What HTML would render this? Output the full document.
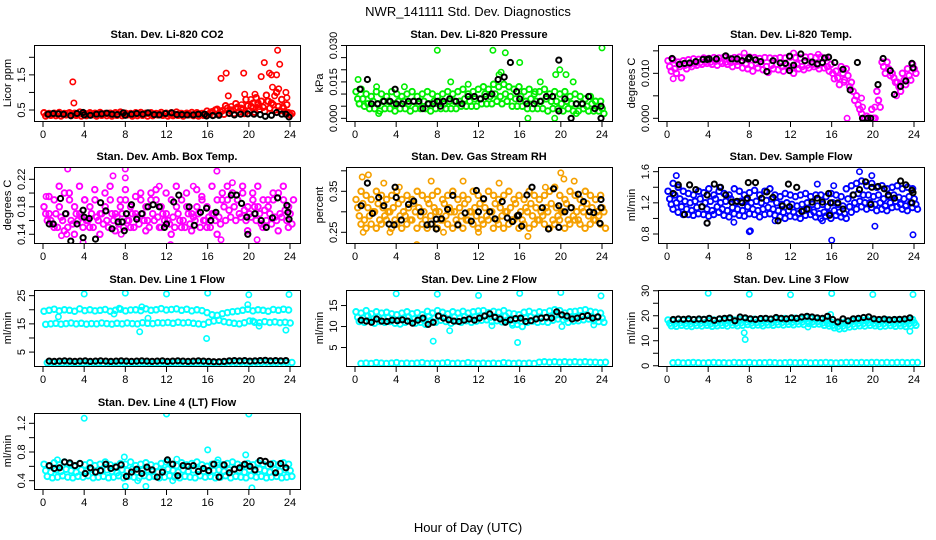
<!DOCTYPE html>
<html><head><meta charset="utf-8">
<style>
html,body{margin:0;padding:0;background:#fff;}
svg{display:block;font-family:"Liberation Sans",Arial,sans-serif;}
</style></head>
<body>
<svg id="chart" width="936" height="540" viewBox="0 0 936 540">
<rect width="936" height="540" fill="#fff"/>
<text x="468" y="16" text-anchor="middle" font-size="13">NWR_141111 Std. Dev. Diagnostics</text>
<text x="468" y="532" text-anchor="middle" font-size="13">Hour of Day (UTC)</text>
</svg>
<script>
// ---------- DATA ----------
const xTicks = [0,4,8,12,16,20,24];

// CO2 (ppm)
const co2A = [.42,.40,.41,.43,.40,.42,.41,.44,.40,.42,.41,.43,.40,.41,.42,.44,.41,.40,.42,.43,.41,.42,.40,.43,.41,.42,.44,.40,.41,.43,.42,.40,.47,.45,.52,.48,.55,.50,.58,.52,.62,.55,.70,.58,.75,.65,.60,.55,.42];
const co2B = [.33,.35,.34,.33,.36,.34,.35,.33,.34,.36,.33,.35,.34,.33,.35,.34,.36,.33,.34,.35,.33,.34,.36,.35,.33,.34,.35,.33,.36,.34,.33,.35,.38,.36,.40,.38,.42,.40,.45,.40,.48,.44,.52,.46,.55,.50,.48,.44,.36];
const co2C = [.38,.37,.39,.38,.40,.38,.37,.39,.38,.37,.39,.38,.40,.37,.38,.39,.38,.37,.39,.38,.40,.37,.38,.39,.38,.37,.40,.38,.37,.39,.38,.37,.42,.50,.45,.62,.48,.68,.55,.80,.60,.85,.75,.92,.70,1.0,.80,.65,.40];
const co2Out = [[2.9,1.3],[3,.7],[17.3,1.4],[17.8,1.55],[18,.9],[19.5,1.55],[19.6,.95],[20.2,.8],[20.6,.95],[21.2,1.45],[21.5,1.85],[22,1.55],[22.2,1.5],[22.3,1.15],[22.7,1.5],[22.8,2.2],[23,1.8],[22.9,1.1],[23.6,1.0],[23.7,.85],[21.8,.75],[20.9,.65],[18.3,.6],[19.3,.65],[23.3,.6],[22.5,.9],[21,.6],[20.4,.7]];
const co2Blk = [[.5,.38],[1,.40],[1.5,.39],[2,.38],[2.7,.34],[3.3,.40],[3.9,.43],[4,.36],[4.6,.35],[5.2,.38],[5.7,.39],[6.2,.41],[6.7,.38],[7.2,.37],[7.8,.42],[8,.35],[8.6,.38],[9.1,.40],[9.7,.38],[10.2,.42],[10.8,.37],[11.3,.36],[11.9,.40],[12.5,.42],[13,.37],[13.5,.37],[14,.36],[14.6,.36],[15.1,.38],[15.7,.38],[15.9,.33],[16.5,.34],[17.1,.35],[18.1,.40],[18.6,.36],[19.2,.38],[19.9,.39],[20.5,.38],[21.1,.37],[21.6,.32],[22.2,.35],[22.7,.43],[23.2,.38],[23.6,.38],[23.9,.30]];

// Pressure (kPa)
const prA = [.011,.012,.010,.009,.011,.010,.009,.011,.010,.009,.010,.011,.009,.010,.011,.010,.009,.010,.011,.010,.011,.012,.010,.011,.012,.013,.012,.014,.013,.014,.013,.012,.013,.011,.012,.010,.011,.012,.010,.011,.010,.011,.009,.010,.009,.008,.009,.007,.007];
const prB = [.008,.008,.006,.007,.006,.007,.007,.006,.007,.007,.006,.007,.006,.007,.006,.007,.007,.006,.007,.007,.007,.008,.007,.008,.008,.010,.009,.010,.009,.010,.009,.008,.009,.007,.008,.007,.007,.008,.007,.007,.006,.007,.006,.006,.006,.005,.006,.005,.004];
const prC = [.006,.005,.004,.004,.003,.004,.004,.003,.004,.004,.003,.004,.004,.004,.003,.004,.004,.004,.004,.004,.005,.005,.005,.005,.006,.006,.006,.007,.006,.007,.005,.005,.005,.004,.004,.004,.004,.003,.004,.004,.003,.004,.003,.003,.004,.003,.003,.003,.002];
const prOut = [[8,.028],[13.4,.028],[14.6,.027],[16,.023],[24,.029],[.3,.016],[2.1,.013],[9.3,.015],[11,.014],[14,.018],[14.2,.019],[18,.015],[19.5,.018],[19.9,.020],[20.5,.018],[21.2,.015],[16.8,.0],[19.4,.0],[2.3,.002],[21.5,.002],[4.8,.013],[17.5,.011]];
const prBlk = [[.5,.012],[1.2,.016],[1.6,.006],[2.2,.006],[2.8,.007],[3.4,.007],[3.9,.012],[4,.006],[4.6,.006],[5.2,.007],[5.7,.007],[6.2,.007],[6.6,.004],[7.1,.006],[7.6,.006],[8,.007],[8.3,.005],[8.6,.007],[9.2,.008],[9.8,.007],[10.4,.006],[11,.009],[11.6,.009],[12.2,.008],[12.7,.009],[13.3,.010],[13.9,.016],[14.5,.017],[15.1,.023],[15.7,.011],[16,.008],[16.7,.006],[17.4,.006],[18,.007],[18.6,.009],[19.2,.009],[19.8,.024],[19.8,.003],[20.4,.008],[21,.000],[21.5,.006],[22.1,.006],[22.7,.009],[23.3,.004],[23.9,.000],[23.9,.005]];

// Li-820 temperature (deg C)
const tmA = [.0128,.0130,.0125,.0128,.0130,.0132,.0131,.0134,.0133,.0135,.0134,.0136,.0133,.0135,.0136,.0134,.0136,.0135,.0133,.0135,.0134,.0133,.0135,.0134,.0136,.0135,.0134,.0136,.0137,.0135,.0136,.0134,.0120,.0105,.0115,.0110,.0080,.0050,.0010,.0005,.0020,.0060,.0125,.0125,.0100,.0080,.0100,.0110,.0120];
const tmB = [.0115,.0110,.0115,.0118,.0120,.0122,.0124,.0126,.0125,.0127,.0126,.0125,.0124,.0126,.0125,.0120,.0118,.0122,.0120,.0115,.0118,.0120,.0115,.0118,.0112,.0120,.0115,.0118,.0120,.0118,.0122,.0115,.0100,.0090,.0100,.0095,.0060,.0030,.0000,.0000,.0000,.0040,.0115,.0110,.0090,.0070,.0085,.0095,.0110];
const tmC = [.0105,.0100,.0090,.0110,.0115,.0118,.0120,.0122,.0120,.0118,.0122,.0120,.0115,.0118,.0112,.0110,.0105,.0112,.0108,.0102,.0110,.0108,.0105,.0112,.0100,.0110,.0108,.0112,.0115,.0110,.0112,.0105,.0088,.0075,.0085,.0070,.0040,.0020,.0000,.0000,.0000,.0025,.0100,.0095,.0080,.0060,.0075,.0085,.0100];
const tmOut = [[.6,.0088],[17.5,0],[19,.0025],[20.2,.0025],[14.7,.0142],[7.5,.0145],[12.3,.0145],[18.9,.0045],[17.2,.0080],[22.3,.0050]];
const tmBlk = [[.5,.0133],[1.2,.0120],[1.7,.0122],[2.2,.0123],[2.8,.0126],[3.5,.0131],[3.9,.0131],[4.1,.0132],[4.8,.0132],[5.7,.0139],[6.3,.0132],[6.8,.0132],[7.3,.0128],[7.9,.0132],[8,.0135],[8.6,.0130],[9.1,.0126],[9.7,.0104],[10.3,.0128],[11,.0123],[11.5,.0122],[11.9,.0138],[11.9,.0106],[12.3,.0118],[13,.0143],[13.4,.0128],[14.1,.0125],[14.6,.0121],[15.1,.0124],[15.3,.0134],[15.7,.0136],[16.3,.0124],[17.1,.0109],[17.8,.0063],[18.5,.0124],[19,0],[19.5,0],[19.8,0],[20.5,.0075],[21,.0133],[21.7,.0106],[22.1,.0053],[22.7,.0071],[23.2,.0083],[23.8,.0122],[23.9,.0112]];

// Ambient box temperature (deg C)
const ambA = [.18,.17,.19,.18,.20,.19,.18,.17,.19,.18,.19,.17,.18,.19,.17,.18,.19,.18,.17,.19,.18,.20,.19,.18,.17,.19,.18,.19,.18,.17,.18,.19,.18,.17,.19,.20,.19,.20,.19,.20,.18,.19,.18,.19,.18,.19,.20,.19,.18];
const ambB = [.17,.16,.17,.165,.17,.16,.17,.165,.16,.17,.165,.17,.16,.17,.165,.17,.16,.17,.165,.17,.16,.17,.165,.17,.16,.165,.17,.16,.17,.165,.17,.16,.165,.17,.165,.18,.175,.18,.17,.175,.17,.18,.17,.175,.17,.165,.17,.175,.17];
const ambC = [.16,.155,.15,.16,.15,.155,.16,.15,.16,.15,.16,.155,.15,.16,.155,.15,.16,.15,.155,.16,.15,.16,.15,.16,.155,.15,.16,.15,.155,.16,.15,.16,.15,.16,.155,.16,.165,.16,.165,.16,.165,.16,.155,.16,.155,.16,.165,.16,.155];
const ambD = [.195,.15,.21,.145,.20,.14,.21,.19,.15,.205,.14,.20,.21,.145,.19,.205,.15,.195,.20,.145,.19,.205,.15,.20,.14,.21,.15,.20,.145,.205,.195,.15,.21,.14,.19,.21,.20,.19,.21,.145,.20,.21,.15,.19,.20,.145,.21,.15,.19];
const ambOut = [[2.4,.235],[8,.235],[16.9,.232],[12.4,.125],[3.9,.128],[17.3,.132],[20.8,.132],[1.8,.138],[2.3,.14],[7.6,.14],[6.8,.225],[8,.222],[18.4,.215],[.3,.195],[14.6,.21],[11.3,.21]];
const ambBlk = [[.6,.155],[1,.155],[1.7,.192],[2.2,.17],[2.7,.13],[3.3,.155],[3.9,.135],[3.9,.175],[4,.165],[4.5,.163],[5.1,.133],[5.6,.186],[6.1,.174],[6.7,.148],[7.3,.158],[7.7,.158],[7.9,.145],[8.1,.17],[8.6,.183],[9.1,.162],[9.6,.17],[10.2,.18],[10.7,.183],[11.3,.18],[11.8,.15],[12,.155],[12.7,.187],[13.2,.197],[14.2,.18],[14.7,.153],[15.3,.172],[15.9,.178],[16.3,.16],[16.8,.172],[18.3,.197],[18.8,.197],[19.3,.185],[19.8,.165],[19.9,.14],[20.6,.17],[21.2,.16],[21.7,.15],[22.3,.164],[22.8,.193],[23.7,.182],[23.8,.172],[23.9,.162]];

// Gas stream RH (percent)
const rhA = [.33,.35,.34,.33,.35,.34,.33,.34,.35,.33,.34,.33,.35,.34,.33,.34,.35,.33,.34,.35,.33,.34,.33,.35,.34,.33,.35,.34,.33,.34,.35,.33,.34,.33,.35,.34,.33,.34,.35,.36,.34,.33,.35,.34,.33,.35,.34,.33,.34];
const rhB = [.31,.32,.31,.30,.32,.31,.30,.31,.32,.30,.31,.32,.31,.30,.32,.31,.30,.32,.31,.30,.31,.32,.30,.31,.32,.31,.30,.32,.31,.30,.31,.32,.30,.31,.32,.31,.30,.31,.32,.31,.30,.32,.31,.30,.31,.32,.31,.30,.31];
const rhC = [.29,.28,.29,.30,.28,.29,.30,.28,.29,.29,.28,.30,.29,.28,.29,.30,.28,.29,.30,.28,.29,.28,.30,.29,.28,.29,.30,.28,.29,.30,.28,.29,.28,.30,.29,.28,.29,.30,.28,.29,.30,.28,.29,.28,.30,.29,.28,.29,.30];
const rhD = [.27,.26,.27,.26,.27,.28,.26,.27,.26,.27,.28,.26,.27,.26,.27,.26,.28,.27,.26,.27,.26,.28,.27,.26,.27,.28,.26,.27,.26,.27,.28,.26,.27,.26,.27,.28,.27,.26,.27,.28,.26,.27,.28,.27,.26,.27,.28,.27,.26];
const rhOut = [[.7,.385],[1.3,.39],[2.8,.37],[7.4,.375],[10.5,.375],[14,.37],[20,.395],[20.3,.38],[21.3,.375],[6,.22],[12,.25],[16.8,.24],[8.6,.25],[3.4,.25],[.8,.25],[18.5,.36],[4.3,.36]];
const rhBlk = [[.6,.315],[1.2,.37],[1.7,.296],[2.3,.335],[2.8,.315],[3.3,.27],[3.8,.268],[3.9,.36],[4,.335],[4.5,.28],[5.2,.318],[5.7,.326],[6.4,.30],[7,.268],[7.4,.27],[7.9,.282],[7.9,.258],[8.4,.283],[9,.306],[9.5,.34],[10,.268],[10.7,.297],[11.3,.277],[11.8,.352],[12,.30],[12.5,.332],[13.1,.30],[13.6,.283],[14.3,.325],[14.8,.285],[15.3,.276],[15.8,.29],[15.9,.292],[16.2,.265],[16.7,.341],[17.2,.36],[18.2,.31],[18.8,.258],[19.3,.356],[19.8,.315],[19.8,.262],[20.4,.30],[21,.31],[21.7,.343],[22.2,.325],[22.8,.30],[23.2,.298],[23.8,.272],[23.9,.31],[23.9,.33]];

// Sample flow (ml/min)
const sfA = [1.35,1.45,1.40,1.35,1.32,1.30,1.35,1.33,1.38,1.30,1.35,1.32,1.30,1.38,1.35,1.30,1.33,1.36,1.30,1.35,1.38,1.30,1.28,1.32,1.30,1.28,1.30,1.32,1.28,1.30,1.30,1.28,1.32,1.30,1.28,1.38,1.42,1.45,1.48,1.42,1.45,1.40,1.42,1.38,1.40,1.42,1.38,1.40,1.38];
const sfB = [1.25,1.30,1.25,1.22,1.20,1.22,1.25,1.20,1.22,1.25,1.20,1.22,1.25,1.20,1.22,1.24,1.20,1.22,1.20,1.23,1.25,1.20,1.18,1.20,1.18,1.16,1.18,1.20,1.18,1.16,1.18,1.15,1.20,1.18,1.16,1.25,1.30,1.32,1.30,1.30,1.28,1.30,1.25,1.28,1.30,1.27,1.25,1.28,1.25];
const sfC = [1.18,1.20,1.15,1.12,1.10,1.14,1.15,1.12,1.10,1.15,1.12,1.10,1.14,1.12,1.10,1.15,1.12,1.10,1.12,1.14,1.12,1.10,1.08,1.10,1.08,1.06,1.10,1.12,1.08,1.06,1.08,1.06,1.10,1.08,1.06,1.15,1.20,1.22,1.20,1.20,1.18,1.20,1.16,1.20,1.22,1.18,1.16,1.20,1.18];
const sfD = [1.12,1.08,1.05,1.05,1.04,1.06,1.05,1.03,1.05,1.08,1.04,1.02,1.06,1.04,1.03,1.06,1.05,1.02,1.05,1.06,1.04,1.02,1.00,1.03,1.02,1.00,1.04,1.05,1.02,1.00,1.03,1.00,1.04,1.02,1.00,1.08,1.12,1.15,1.12,1.14,1.10,1.12,1.10,1.14,1.15,1.12,1.10,1.14,1.12];
const sfOut = [[.9,1.55],[8,.83],[8.1,.84],[16,.72],[20.2,.9],[23.9,.79],[18.7,1.6],[19.9,1.55],[6.5,.95],[3.9,.94],[10.5,.97],[15.1,.97],[14.6,1.44],[16.2,1.42],[5.1,1.40]];
const sfBlk = [[.6,1.32],[1.1,1.43],[1.7,1.05],[2.2,1.43],[2.8,1.37],[3.4,1.15],[3.9,.94],[3.9,1.3],[4.6,1.44],[5.2,1.4],[5.7,1.3],[6.3,1.21],[6.8,1.22],[7.3,1.2],[7.8,1.26],[7.9,1.46],[8.6,1.46],[9.2,1.26],[9.7,1.34],[10.3,1.27],[10.8,.97],[11.2,1.16],[11.8,1.44],[11.9,1.15],[12.6,1.4],[13.1,1.09],[13.6,1.12],[14.1,1.21],[14.6,1.26],[15.1,1.21],[15.7,1.32],[15.8,1.04],[15.9,1.2],[16.6,1.2],[17.1,1.12],[18.1,1.3],[18.7,1.37],[19.3,1.47],[19.8,1.18],[19.9,1.4],[20.5,1.41],[21.1,1.38],[21.5,1.3],[22.1,1.26],[22.7,1.48],[23.2,1.43],[23.8,1.2],[23.9,1.33],[23.8,1.36]];

// Line 1 flow
const l1A = [19.5,19.8,20.2,19.6,20.0,19.8,19.5,20.3,19.7,20.0,19.6,19.8,20.1,19.5,19.8,20.2,19.6,19.9,20.0,19.7,20.3,19.8,20.0,20.4,19.9,20.1,20.3,19.8,20.2,19.6,20.0,19.7,19.0,18.2,18.0,18.6,19.0,19.3,19.5,19.8,20.2,19.6,20.0,19.8,19.5,20.1,19.8,20.2,19.9];
const l1B = [14.8,15.0,15.2,14.9,15.1,15.3,15.0,15.2,14.9,15.1,15.0,15.3,15.1,14.9,15.2,15.0,15.3,15.1,15.0,15.4,15.2,15.1,15.4,15.3,15.5,15.2,15.6,15.3,15.5,15.2,15.0,14.8,15.6,16.0,16.3,15.8,15.5,15.2,15.0,15.4,16.0,15.6,15.4,15.8,15.5,15.7,15.4,15.6,15.3];
const l1L = [1.2,1.3,1.1,1.2,1.3,1.2,1.1,1.2,1.3,1.2,1.2,1.1,1.3,1.2,1.2,1.3,1.1,1.2,1.2,1.3,1.2,1.1,1.2,1.3,1.2,1.2,1.3,1.1,1.2,1.2,1.3,1.2,1.1,1.2,1.3,1.3,1.4,1.3,1.4,1.3,1.3,1.4,1.3,1.4,1.3,1.3,1.4,1.3,1.3];
const l1Out = [[4,25.6],[8,25.9],[12,25.6],[16,25.9],[20,25.3],[23.9,25.4],[9.4,12.2],[15.9,9.8],[23.6,12.8],[1.5,17.5],[6.9,18.5],[9.6,21.0],[10.2,17.0],[19.9,21.8],[21,14.2],[20.4,16.0],[7.4,20.5]];
const l1Blk = [1.8,1.7,1.8,1.9,1.8,1.7,1.8,1.9,1.7,1.8,1.9,1.8,1.7,1.8,1.9,1.8,1.7,1.8,1.9,1.8,1.7,1.8,1.9,1.7,1.8,1.9,1.8,1.7,1.8,1.9,1.8,1.7,1.6,1.6,1.7,1.9,2.0,1.9,2.0,1.8,1.9,2.0,2.1,1.9,2.0,1.9,2.0];

// Line 2 flow
const l2A = [13.5,13.2,13.8,13.0,13.5,13.2,13.4,13.0,12.8,13.2,13.5,13.0,13.3,12.8,13.6,13.2,13.8,13.4,13.0,13.5,13.2,13.6,13.2,13.5,13.7,13.8,13.3,13.6,13.4,13.8,13.2,13.0,12.8,13.4,13.6,13.2,13.5,13.3,13.7,14.0,13.8,13.2,13.5,13.6,13.8,14.0,13.6,13.4,13.2];
const l2B = [12.2,12.0,12.5,11.8,12.3,12.0,12.2,11.8,11.5,12.0,12.3,11.8,12.0,11.5,12.4,12.0,12.5,12.2,11.8,12.3,12.0,12.4,12.0,12.3,12.5,12.6,12.2,12.4,12.1,12.5,11.8,11.5,11.2,12.0,12.3,12.0,12.2,12.0,12.5,12.8,12.6,12.0,12.3,12.4,12.6,12.8,12.4,12.2,12.0];
const l2C = [11.2,11.0,11.5,10.8,11.2,11.0,11.2,10.8,10.6,11.0,11.3,10.8,11.0,10.5,11.4,11.0,11.5,11.2,10.8,11.3,11.0,11.4,11.0,11.3,11.5,11.6,11.2,11.4,11.1,11.5,10.8,10.5,10.0,11.0,11.3,11.0,11.2,11.0,11.5,11.8,11.6,11.0,11.3,11.4,11.6,11.8,11.4,11.2,11.0];
const l2L = [1.2,1.3,1.2,1.4,1.3,1.2,1.3,1.4,1.2,1.3,1.2,1.3,1.4,1.2,1.3,1.2,1.3,1.4,1.2,1.3,1.2,1.4,1.3,1.2,1.3,1.2,1.3,1.2,1.4,1.3,1.2,1.3,1.2,1.3,1.2,1.5,1.6,1.5,1.6,1.5,1.6,1.5,1.6,1.5,1.6,1.5,1.5,1.4,1.5];
const l2Out = [[4,17.8],[8,17.7],[12,17.4],[16,17.9],[20,18.1],[23.9,17.3],[7.6,6.5],[15.8,6.2],[9.2,9.0],[20.1,10.0],[13.3,10.2],[15.3,10.3],[23.2,10.4]];
const l2Blk = [11.5,11.3,11.0,11.8,11.3,11.2,11.5,11.4,11.6,11.3,10.8,11.5,12.0,10.5,11.0,12.5,12.0,11.6,11.3,11.2,11.5,11.8,11.5,12.0,12.5,13.0,12.2,11.8,11.0,11.6,11.9,12.0,11.2,11.4,11.8,12.0,12.2,12.0,13.5,12.8,12.5,11.8,12.0,12.4,12.6,12.0,12.3];

// Line 3 flow
const l3A = [18.3,18.0,18.5,18.2,18.0,18.4,18.2,18.5,18.0,18.3,18.5,18.2,18.6,18.3,18.5,18.8,18.4,18.6,18.3,18.7,18.5,18.8,18.6,18.9,18.7,19.0,18.8,19.2,18.9,19.0,18.5,18.2,17.5,17.0,17.2,17.8,18.0,18.3,18.2,18.5,18.3,18.0,18.2,18.4,18.1,18.3,18.0,18.2,18.5];
const l3B = [17.0,16.8,17.2,16.9,16.7,17.1,16.9,17.2,16.8,17.0,17.2,16.9,17.3,17.0,17.2,17.5,17.1,17.3,17.0,17.4,17.2,17.5,17.3,17.6,17.4,17.7,17.5,17.9,17.6,17.7,17.2,16.9,16.2,15.7,15.9,16.5,16.7,17.0,16.9,17.2,17.0,16.7,16.9,17.1,16.8,17.0,16.7,16.9,17.2];
const l3C = [16.0,15.8,16.2,15.9,15.7,16.1,15.9,16.2,15.8,16.0,16.2,15.9,16.3,16.0,16.2,16.5,16.1,16.3,16.0,16.4,16.2,16.5,16.3,16.6,16.4,16.7,16.5,16.9,16.6,16.7,16.2,15.9,15.2,14.7,14.9,15.5,15.7,16.0,15.9,16.2,16.0,15.7,15.9,16.1,15.8,16.0,15.7,15.9,16.2];
const l3L = [1.2,1.3,1.1,1.2,1.3,1.2,1.1,1.2,1.3,1.2,1.2,1.1,1.3,1.2,1.2,1.3,1.1,1.2,1.2,1.3,1.2,1.1,1.2,1.3,1.2,1.2,1.3,1.1,1.2,1.2,1.3,1.2,1.1,1.2,1.3,1.3,1.2,1.3,1.2,1.3,1.3,1.2,1.3,1.2,1.3,1.3,1.2,1.3,1.3];
const l3Out = [[4,29],[8,28.6],[12,28.4],[16,28.9],[20,28.5],[23.9,28.5],[7.5,13.2],[7.6,10.5],[23.6,13.8],[15.9,20.5],[13.7,15.5]];
const l3Blk = [18.5,18.7,18.6,18.8,18.5,18.7,18.6,19.0,18.2,18.8,19.0,19.2,18.0,19.5,19.2,18.8,18.6,18.9,19.0,18.7,19.3,19.0,18.8,19.2,19.0,19.5,19.8,19.5,19.2,19.0,19.8,18.5,17.5,18.8,18.0,18.8,19.0,19.3,19.6,18.8,18.5,18.7,18.4,18.5,18.6,18.7,19.2];

// Line 4 (LT) flow
const l4A = [.63,.60,.65,.62,.66,.63,.60,.64,.62,.65,.61,.63,.66,.62,.60,.64,.63,.66,.61,.63,.65,.62,.60,.64,.66,.63,.61,.65,.62,.64,.66,.62,.60,.63,.65,.62,.64,.66,.63,.61,.64,.62,.65,.63,.60,.64,.62,.65,.63];
const l4B = [.54,.52,.55,.53,.56,.54,.52,.55,.53,.56,.52,.54,.55,.53,.51,.55,.54,.56,.52,.54,.55,.53,.52,.55,.56,.54,.52,.55,.53,.55,.56,.53,.52,.54,.55,.53,.55,.56,.54,.52,.55,.53,.56,.54,.52,.55,.53,.55,.54];
const l4C = [.46,.44,.45,.47,.45,.44,.46,.45,.47,.44,.45,.46,.44,.45,.47,.44,.46,.45,.44,.47,.45,.46,.44,.45,.47,.45,.44,.46,.45,.44,.47,.45,.46,.44,.45,.47,.44,.46,.45,.44,.47,.45,.46,.44,.45,.46,.44,.45,.46];
const l4Out = [[4,1.27],[12,1.33],[20,1.33],[8,.32],[10,.32],[20.3,.30],[16,.83],[19.7,.76],[7.9,.73],[1.4,.69],[13,.70],[17,.69],[9.2,.40],[12.6,.40]];
const l4Blk = [.61,.57,.58,.66,.65,.61,.64,.50,.58,.52,.54,.63,.57,.59,.62,.46,.52,.56,.50,.59,.55,.45,.52,.69,.63,.47,.61,.60,.61,.53,.57,.54,.63,.45,.62,.51,.56,.58,.63,.60,.55,.68,.67,.63,.51,.64,.58];

// ---------- LAYOUT ----------
const colLeft = [34, 346, 658];
const rowTop = [45, 167, 290, 413];
const boxW = 266, boxH = 76;

const panels = [
 {name:'co2', title:'Stan. Dev. Li-820 CO2', ylab:'Licor ppm', col:0,row:0, lo:.187, hi:2.35, ticks:[.5,1,1.5,2], labels:{'0.5':'0.5','1.5':'1.5'}, color:'#ff0000', bands:[co2A,co2B,co2C], out:co2Out, blk:co2Blk},
 {name:'pressure', title:'Stan. Dev. Li-820 Pressure', ylab:'kPa', col:1,row:0, lo:-.0011, hi:.0302, ticks:[0,.005,.01,.015,.02,.025,.03], labels:{'0':'0.000','0.015':'0.015','0.03':'0.030'}, color:'#00ee00', bands:[prA,prB,prC], out:prOut, blk:prBlk},
 {name:'li820-temp', title:'Stan. Dev. Li-820 Temp.', ylab:'degrees C', col:2,row:0, lo:-.0006, hi:.0163, ticks:[0,.005,.01,.015], labels:{'0':'0.000','0.01':'0.010'}, color:'#ff00ff', bands:[tmA,tmB,tmC], out:tmOut, blk:tmBlk},
 {name:'amb-box-temp', title:'Stan. Dev. Amb. Box Temp.', ylab:'degrees C', col:0,row:1, lo:.1273, hi:.2379, ticks:[.14,.16,.18,.2,.22], labels:{'0.14':'0.14','0.18':'0.18','0.22':'0.22'}, color:'#ff00ff', bands:[ambA,ambB,ambC,ambD], out:ambOut, blk:ambBlk},
 {name:'gas-stream-rh', title:'Stan. Dev. Gas Stream RH', ylab:'percent', col:1,row:1, lo:.2239, hi:.4093, ticks:[.25,.3,.35,.4], labels:{'0.25':'0.25','0.35':'0.35'}, color:'#f5a000', bands:[rhA,rhB,rhC,rhD], out:rhOut, blk:rhBlk},
 {name:'sample-flow', title:'Stan. Dev. Sample Flow', ylab:'ml/min', col:2,row:1, lo:.6845, hi:1.66, ticks:[.8,1,1.2,1.4,1.6], labels:{'0.8':'0.8','1.2':'1.2','1.6':'1.6'}, color:'#0000ff', bands:[sfA,sfB,sfC,sfD], out:sfOut, blk:sfBlk},
 {name:'line1-flow', title:'Stan. Dev. Line 1 Flow', ylab:'ml/min', col:0,row:2, lo:.07, hi:27.0, ticks:[5,10,15,20,25], labels:{'5':'5','15':'15','25':'25'}, color:'#00ffff', bands:[l1A,l1B,l1L], out:l1Out, blk:l1Blk},
 {name:'line2-flow', title:'Stan. Dev. Line 2 Flow', ylab:'ml/min', col:1,row:2, lo:.6, hi:18.7, ticks:[5,10,15], labels:{'5':'5','10':'10','15':'15'}, color:'#00ffff', bands:[l2A,l2B,l2C,l2L], out:l2Out, blk:l2Blk},
 {name:'line3-flow', title:'Stan. Dev. Line 3 Flow', ylab:'ml/min', col:2,row:2, lo:-.1, hi:30.3, ticks:[0,5,10,15,20,25,30], labels:{'0':'0','10':'10','20':'20','30':'30'}, color:'#00ffff', bands:[l3A,l3B,l3C,l3L], out:l3Out, blk:l3Blk},
 {name:'line4-flow', title:'Stan. Dev. Line 4 (LT) Flow', ylab:'ml/min', col:0,row:3, lo:.284, hi:1.344, ticks:[.4,.6,.8,1,1.2], labels:{'0.4':'0.4','0.8':'0.8','1.2':'1.2'}, color:'#00ffff', bands:[l4A,l4B,l4C], out:l4Out, blk:l4Blk}
];

const NS = 'http://www.w3.org/2000/svg';
const svg = document.getElementById('chart');
function mk(tag, attrs, parent){
  const e = document.createElementNS(NS, tag);
  for (const k in attrs) e.setAttribute(k, attrs[k]);
  parent.appendChild(e);
  return e;
}

panels.forEach(p => {
  const L = colLeft[p.col], T = rowTop[p.row], B = T + boxH;
  const g = mk('g', {}, svg);
  
  
  const xs = h => L + 9 + h * (247 / 24);
  const ys = v => B - (v - p.lo) / (p.hi - p.lo) * boxH;

  const clip = mk('clipPath', {id: 'clip-' + p.name}, g);
  mk('rect', {x: L, y: T, width: boxW, height: boxH}, clip);
  const pts = mk('g', {'clip-path': 'url(#clip-' + p.name + ')'}, g);
  
  

  function dot(h, v, color, sw, r){
    const c = mk('circle', {cx: xs(h).toFixed(1), cy: ys(v).toFixed(1), r: r, fill: 'none', stroke: color, 'stroke-width': sw}, pts);
    
    
  }
  p.bands.forEach((arr, bi) => {
    arr.forEach((v, i) => dot(0.1 + i * 0.495 + bi * 0.16, v, p.color, 1.9, 2.8));
  });
  p.out.forEach(d => dot(d[0], d[1], p.color, 1.6, 2.7));
  p.blk.forEach((d, i) => {
    if (Array.isArray(d)) dot(d[0], d[1], '#000', 2, 2.6);
    else dot(0.6 + i * 0.5, d, '#000', 2, 2.6);
  });

  const box = mk('rect', {x: L + .5, y: T + .5, width: boxW, height: boxH, fill: 'none', stroke: '#000', 'stroke-width': 1}, g);
  
  

  const tt = mk('text', {x: L + boxW / 2, y: T - 7, 'text-anchor': 'middle', 'font-size': 11, 'font-weight': 'bold'}, g);
  tt.textContent = p.title;
  
  

  const xa = mk('g', {}, g);
  
  
  mk('line', {x1: xs(0), x2: xs(24), y1: B + .5, y2: B + .5, stroke: '#000'}, xa);
  xTicks.forEach(t => {
    mk('line', {x1: xs(t), x2: xs(t), y1: B, y2: B + 6, stroke: '#000'}, xa);
    const lb = mk('text', {x: xs(t), y: B + 17, 'text-anchor': 'middle', 'font-size': 11}, xa);
    lb.textContent = t;
    
    
  });

  const ya = mk('g', {}, g);
  
  
  mk('line', {x1: L + .5, x2: L + .5, y1: ys(p.ticks[0]), y2: ys(p.ticks[p.ticks.length - 1]), stroke: '#000'}, ya);
  p.ticks.forEach(t => {
    const y = ys(t);
    mk('line', {x1: L - 5, x2: L, y1: y, y2: y, stroke: '#000'}, ya);
    const key = String(+t.toFixed(4));
    if (p.labels[key] !== undefined) {
      const lb = mk('text', {x: 0, y: 0, transform: 'translate(' + (L - 9) + ',' + y + ') rotate(-90)', 'text-anchor': 'middle', 'font-size': 11}, ya);
      lb.textContent = p.labels[key];
      
      
    }
  });
  const yl = mk('text', {x: 0, y: 0, transform: 'translate(' + (L - 23) + ',' + (T + boxH / 2) + ') rotate(-90)', 'text-anchor': 'middle', 'font-size': 11}, g);
  yl.textContent = p.ylab;
  
  
});
</script>
</body></html>
